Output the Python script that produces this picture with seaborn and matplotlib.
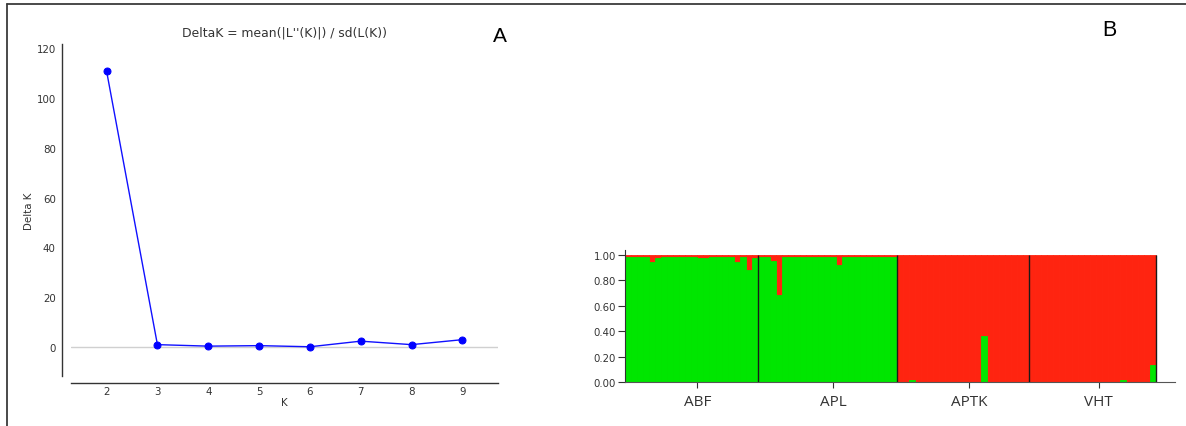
import matplotlib
matplotlib.use("Agg")
import matplotlib.pyplot as plt
import seaborn as sns
import numpy as np
import pandas as pd
from matplotlib.lines import Line2D

# ---------------- data ----------------
K_values = [2, 3, 4, 5, 6, 7, 8, 9]
delta_K = [110.8, 0.9, 0.3, 0.5, 0.05, 2.3, 0.9, 2.9]

populations = ["ABF", "APL", "APTK", "VHT"]

# proportion of membership in the green cluster for each individual
ABF_green = [0.985, 0.985, 0.985, 0.985, 0.94, 0.975, 0.985, 0.985, 0.985, 0.985, 0.985,
             0.985, 0.975, 0.975, 0.985, 0.985, 0.985, 0.985, 0.94, 0.985, 0.88, 0.975]
APL_green = [0.985, 0.985, 0.95, 0.68, 0.985, 0.985, 0.985, 0.985, 0.985, 0.985, 0.985, 0.985,
             0.985, 0.92, 0.985, 0.985, 0.985, 0.985, 0.985, 0.985, 0.985, 0.985, 0.985]
APTK_green = [0.0, 0.0, 0.015, 0.0, 0.0, 0.0, 0.0, 0.0, 0.0, 0.0, 0.0,
              0.0, 0.0, 0.0, 0.36, 0.0, 0.0, 0.0, 0.0, 0.0, 0.0, 0.0]
VHT_green = [0.0, 0.0, 0.0, 0.0, 0.0, 0.0, 0.0, 0.0, 0.0, 0.0, 0.0,
             0.0, 0.0, 0.0, 0.0, 0.015, 0.0, 0.0, 0.0, 0.0, 0.13]

GREEN = "#00e600"
RED = "#ff2410"

# ---------------- figure ----------------
sns.set_style("white")
plt.rcParams['font.family'] = ['DejaVu Sans']

W, H = 1186, 427
fig = plt.figure(figsize=(W / 100, H / 100), dpi=100)

# frame around the figure (top and left edges)
fig.add_artist(Line2D([7 / W, 1.0], [1 - 5 / H, 1 - 5 / H], transform=fig.transFigure,
                      color="#3a3a3a", lw=1.3))
fig.add_artist(Line2D([7 / W, 7 / W], [1 - 5 / H, 0.0], transform=fig.transFigure,
                      color="#3a3a3a", lw=1.3))

# ---------------- panel A ----------------
axA = fig.add_axes([71 / W, 1 - 377 / H, 427 / W, 332 / H])
axA.axhline(0, color="#d0d0d0", lw=1, zorder=0)
sns.lineplot(x=K_values, y=delta_K, ax=axA, color="#1010ff", marker="o", markersize=5,
             markeredgecolor="blue", markerfacecolor="blue", linewidth=1, zorder=3)
axA.set_xlim(1.3, 9.7)
axA.set_ylim(-11.7, 121.7)
axA.set_xticks(K_values)
axA.set_yticks([0, 20, 40, 60, 80, 100, 120])
sns.despine(ax=axA, offset={'left': 6.5, 'bottom': 5})
for s in ("left", "bottom"):
    axA.spines[s].set_color("#333333")
    axA.spines[s].set_linewidth(1)
axA.tick_params(axis="y", direction="out", length=3, width=0.8, labelsize=7.4,
                colors="#333333", pad=1.5)
axA.tick_params(axis="x", direction="in", length=4, width=0.8, labelsize=7.4,
                colors="#333333", pad=2)
axA.set_title("DeltaK = mean(|L''(K)|) / sd(L(K))", fontsize=8.9, color="#333333", pad=6)
axA.set_xlabel("K", fontsize=7.4, color="#333333", labelpad=1)
axA.set_ylabel("Delta K", fontsize=7.4, color="#333333", labelpad=2)
fig.text(500 / W, 1 - 36 / H, "A", fontsize=15, family="Liberation Sans",
         ha="center", va="center", color="black")

# ---------------- panel B ----------------
green_all = ABF_green + APL_green + APTK_green + VHT_green
counts = [len(ABF_green), len(APL_green), len(APTK_green), len(VHT_green)]
n_total = sum(counts)
df = pd.DataFrame({"pos": np.arange(n_total), "green": green_all,
                   "full": np.ones(n_total)})

axB = fig.add_axes([625 / W, 1 - 383 / H, 550 / W, 132 / H])
sns.barplot(data=df, x="pos", y="full", native_scale=True, width=1, color=RED,
            saturation=1, edgecolor=RED, linewidth=0.6, errorbar=None, ax=axB)
sns.barplot(data=df, x="pos", y="green", native_scale=True, width=1, color=GREEN,
            saturation=1, edgecolor=GREEN, linewidth=0.6, errorbar=None, ax=axB)

bounds = np.cumsum(counts) - 0.5
axB.vlines(bounds, 0, 1, color="#1a1a1a", lw=1, zorder=5)
starts = np.concatenate([[0], np.cumsum(counts)[:-1]])
tick_pos = starts + np.array(counts) / 2 + 0.5
axB.set_xticks(tick_pos)
axB.set_xticklabels(populations, fontsize=11, family="Open Sans", color="#333333")
axB.set_xlim(-0.5, n_total - 0.5 + 3.15)
axB.set_ylim(0, 1.037)
axB.set_yticks([0, 0.2, 0.4, 0.6, 0.8, 1.0])
axB.set_yticklabels(["%.2f" % v for v in [0, 0.2, 0.4, 0.6, 0.8, 1.0]])
axB.set_xlabel("")
axB.set_ylabel("")
sns.despine(ax=axB)
axB.spines["left"].set_color("#333333")
axB.spines["bottom"].set_color("#555555")
axB.tick_params(axis="y", direction="out", length=5, width=0.8, labelsize=7.3,
                colors="#333333", pad=1.5, left=True)
axB.tick_params(axis="x", direction="out", length=4, width=0.8, pad=5,
                colors="#333333", bottom=True)
fig.text(1109 / W, 1 - 30 / H, "B", fontsize=15.5, family="Liberation Sans",
         ha="center", va="center", color="black")

fig.savefig("out.png", dpi=100)
